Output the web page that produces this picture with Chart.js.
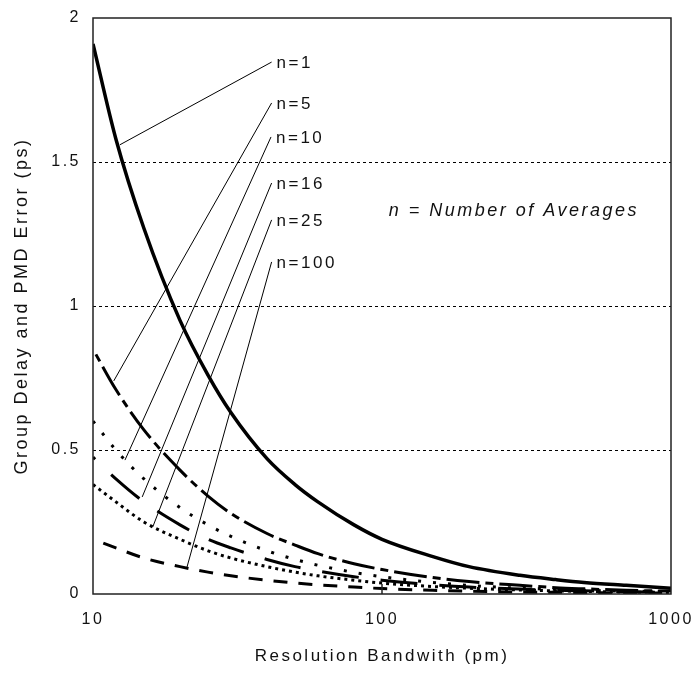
<!DOCTYPE html>
<html>
<head>
<meta charset="utf-8">
<script src="https://cdn.jsdelivr.net/npm/chart.js@4.4.0/dist/chart.umd.min.js"></script>
<style>
  html, body { margin: 0; padding: 0; background: #fff; }
  #wrap { width: 693px; height: 673px; }
</style>
</head>
<body>
<div id="wrap"><canvas id="PmdErrorChart"></canvas></div>
<script>
// resolution bandwidth (pm) at which the curves were read
var bandwidth = [10, 12, 15, 20, 25, 30, 40, 50, 60, 80, 100, 150, 200, 300, 400, 500, 700, 1000];
// group delay / PMD error (ps), one array per number of averages
var err_n1   = [1.91, 1.58, 1.27, 0.95, 0.76, 0.63, 0.47, 0.38, 0.32, 0.24, 0.19, 0.13, 0.095, 0.065, 0.05, 0.04, 0.03, 0.02];
var err_n5   = [0.85, 0.71, 0.57, 0.43, 0.34, 0.28, 0.21, 0.17, 0.14, 0.105, 0.085, 0.057, 0.043, 0.03, 0.022, 0.018, 0.013, 0.01];
var err_n10  = [0.60, 0.50, 0.40, 0.30, 0.24, 0.20, 0.15, 0.12, 0.10, 0.075, 0.06, 0.04, 0.03, 0.02, 0.016, 0.013, 0.01, 0.008];
var err_n16  = [0.475, 0.40, 0.32, 0.24, 0.19, 0.16, 0.12, 0.095, 0.08, 0.06, 0.048, 0.032, 0.024, 0.017, 0.013, 0.011, 0.008, 0.006];
var err_n25  = [0.38, 0.32, 0.25, 0.19, 0.15, 0.125, 0.095, 0.076, 0.063, 0.048, 0.038, 0.026, 0.02, 0.014, 0.011, 0.009, 0.007, 0.005];
var err_n100 = [0.19, 0.16, 0.125, 0.095, 0.076, 0.063, 0.048, 0.038, 0.032, 0.024, 0.019, 0.013, 0.01, 0.007, 0.006, 0.005, 0.004, 0.003];

// curve labels and their leader lines (label end -> point on curve)
var averages = ['n=1', 'n=5', 'n=10', 'n=16', 'n=25', 'n=100'];
var label_bw = [41.5, 41.5, 41.3, 41.5, 41.5, 41.5];
var label_ps = [1.847, 1.705, 1.587, 1.427, 1.299, 1.153];
var curve_bw = [12.4, 11.8, 12.9, 14.8, 16.1, 21.1];
var curve_ps = [1.56, 0.74, 0.465, 0.337, 0.233, 0.09];
var note_text = 'n = Number of Averages';
var note_bw = 286, note_ps = 1.33;

var x_ticks = [10, 100, 1000];
var y_ticks = [0, 0.5, 1, 1.5, 2];

var FONT = '"Liberation Sans", Arial, sans-serif';
Chart.defaults.font.family = FONT;
Chart.defaults.color = '#111';

function curve(values, width, dash, offset){
  return {
    data: bandwidth.map(function(b, i){ return {x: b, y: values[i]}; }),
    borderColor: '#000', borderWidth: width,
    borderDash: dash, borderDashOffset: offset, borderCapStyle: 'butt',
    pointRadius: 0, cubicInterpolationMode: 'monotone', fill: false
  };
}

var datasets = [
  curve(err_n1, 3.5, [], 0),
  curve(err_n5, 3, [33, 6, 8, 6], 33),
  curve(err_n10, 3, [3, 12], 0),
  curve(err_n16, 3, [37, 22], 34),
  curve(err_n25, 3, [3, 4], 0),
  curve(err_n100, 3, [14, 11], 14)
];
averages.forEach(function(_, i){
  datasets.push({
    data: [{x: label_bw[i], y: label_ps[i]}, {x: curve_bw[i], y: curve_ps[i]}],
    borderColor: '#000', borderWidth: 1, pointRadius: 0, tension: 0, fill: false
  });
});

var extras = {
  id: 'extras',
  beforeDraw: function(chart){ chart.ctx.letterSpacing = '2.5px'; },
  afterDatasetsDraw: function(chart){
    var ctx = chart.ctx, xs = chart.scales.x, ys = chart.scales.y, a = chart.chartArea;
    ctx.save();
    ctx.strokeStyle = '#222'; ctx.lineWidth = 1.5;
    ctx.strokeRect(a.left, a.top, a.right - a.left, a.bottom - a.top);
    var px = xs.getPixelForValue(100);
    ctx.beginPath(); ctx.moveTo(px, a.bottom); ctx.lineTo(px, a.bottom - 10); ctx.stroke();
    ctx.fillStyle = '#111';
    ctx.font = '17px ' + FONT;
    ctx.textBaseline = 'middle'; ctx.textAlign = 'left';
    averages.forEach(function(t, i){
      ctx.fillText(t, xs.getPixelForValue(label_bw[i]) + 5, ys.getPixelForValue(label_ps[i]) + 1);
    });
    ctx.font = 'italic 18px ' + FONT;
    ctx.textAlign = 'center';
    ctx.fillText(note_text, xs.getPixelForValue(note_bw), ys.getPixelForValue(note_ps));
    ctx.restore();
  }
};

var ctx = document.getElementById('PmdErrorChart');
var myChart = new Chart(ctx, {
  type: 'line',
  data: {datasets: datasets},
  plugins: [extras],
  options: {
    responsive: true, maintainAspectRatio: false, animation: false,
    layout: {padding: {top: 18, right: 22, left: 0, bottom: 0}},
    plugins: {legend: {display: false}, tooltip: {enabled: false}},
    scales: {
      x: {
        type: 'logarithmic', min: 10, max: 1000,
        afterBuildTicks: function(s){ s.ticks = x_ticks.map(function(v){ return {value: v}; }); },
        afterFit: function(s){ s.height = 79; s.paddingLeft = 0; s.paddingRight = 0; },
        grid: {display: false, drawTicks: false},
        border: {display: false},
        ticks: {padding: 16, font: {size: 16}, callback: function(v){ return String(v); }},
        title: {display: true, text: 'Resolution Bandwith (pm)', font: {size: 17}, padding: {top: 0, bottom: 6}}
      },
      y: {
        type: 'linear', min: 0, max: 2,
        afterBuildTicks: function(s){ s.ticks = y_ticks.map(function(v){ return {value: v}; }); },
        afterFit: function(s){ s.width = 93; s.paddingTop = 0; s.paddingBottom = 0; },
        grid: {
          drawTicks: false, lineWidth: 1,
          color: function(c){ return (c.tick && (c.tick.value === 0 || c.tick.value === 2)) ? 'rgba(0,0,0,0)' : '#000'; }
        },
        border: {display: false, dash: [3, 3]},
        ticks: {padding: 12, font: {size: 16}, callback: function(v){ return String(v); }},
        title: {display: true, text: 'Group Delay and PMD Error (ps)', font: {size: 18}, padding: {top: 11, bottom: 0}}
      }
    }
  }
});
</script>
</body>
</html>
